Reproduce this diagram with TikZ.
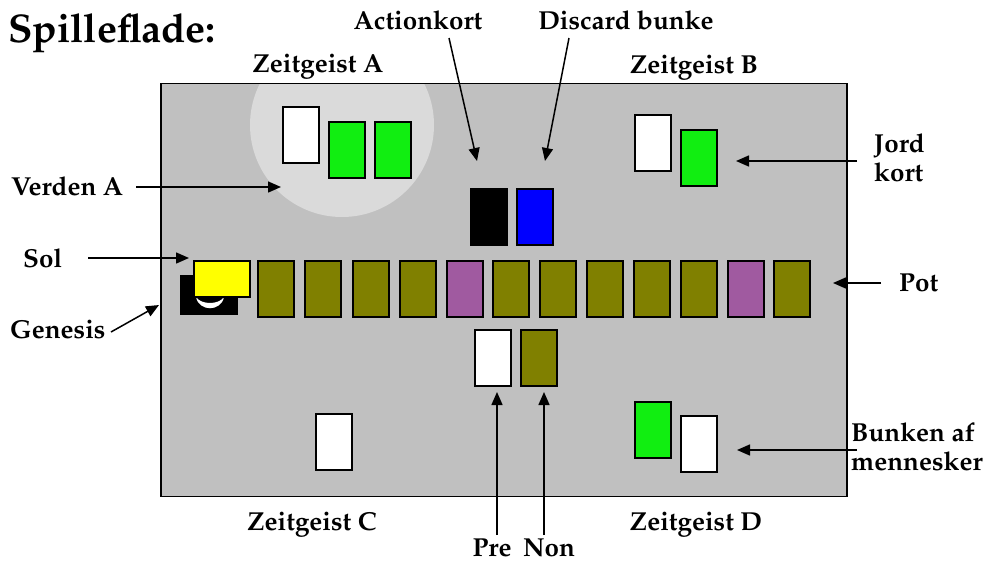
\documentclass[tikz,border=0pt]{standalone}
\usepackage[T1]{fontenc}
\usepackage{mathpazo}
\usetikzlibrary{arrows.meta}
\definecolor{board}{HTML}{C0C0C0}
\definecolor{halo}{HTML}{DADADA}
\definecolor{olive}{HTML}{808000}
\definecolor{purp}{HTML}{A05AA0}
\definecolor{grn}{HTML}{11EE11}
\definecolor{blu}{HTML}{0000FF}
\definecolor{yel}{HTML}{FFFF00}
\tikzset{
  card/.style={draw=black,line width=1.3pt,inner sep=0pt,minimum width=36pt,minimum height=56pt},
  wcard/.style={card,fill=white},
  gcard/.style={card,fill=grn},
  ocard/.style={card,fill=olive},
  pcard/.style={card,fill=purp},
  lbl/.style={font=\bfseries\fontsize{26}{29}\selectfont,inner sep=1pt},
  arr/.style={line width=1.5pt,-{Triangle[length=13pt,width=11pt]}},
}
\begin{document}
\begin{tikzpicture}[x=1pt,y=-1pt]
\useasboundingbox (0,0) rectangle (991,563);
% board
\node[draw=black,line width=1.8pt,fill=board,inner sep=0pt,minimum width=686pt,minimum height=413pt] (brd) at (504,290) {};
\begin{scope}
\clip (161,84) rectangle (847,496);
\fill[halo] (342,125) circle (92);
\end{scope}
% Zeitgeist A cards
\node[wcard] (a1) at (301,135) {};
\node[gcard] (a2) at (347,150) {};
\node[gcard] (a3) at (393,150) {};
% Zeitgeist B
\node[wcard] (b1) at (653,143) {};
\node[gcard] (b2) at (699,158) {};
% action / discard
\node[card,fill=black] (act) at (489,217) {};
\node[card,fill=blu] (dis) at (535,217) {};
% genesis and sun
\node[fill=black,inner sep=0pt,minimum width=58pt,minimum height=40pt] (gen) at (209,295) {};
\fill[white] (196,297) .. controls (199,312) and (221,312) .. (224,297) .. controls (219,305) and (201,305) .. cycle;
\node[draw=black,line width=1.3pt,fill=yel,inner sep=0pt,minimum width=56pt,minimum height=36pt] (sun) at (222,279) {};
% pot row
\node[ocard] (p1) at (276,289) {};
\node[ocard] (p2) at (323,289) {};
\node[ocard] (p3) at (371,289) {};
\node[ocard] (p4) at (418,289) {};
\node[pcard] (p5) at (465,289) {};
\node[ocard] (p6) at (511,289) {};
\node[ocard] (p7) at (558,289) {};
\node[ocard] (p8) at (605,289) {};
\node[ocard] (p9) at (652,289) {};
\node[ocard] (p10) at (699,289) {};
\node[pcard] (p11) at (746,289) {};
\node[ocard] (p12) at (792,289) {};
% pre / non
\node[wcard] (pre) at (493,358) {};
\node[ocard] (non) at (539,358) {};
% Zeitgeist C, D
\node[wcard] (c1) at (334,442) {};
\node[gcard] (d1) at (653,430) {};
\node[wcard] (d2) at (699,444) {};
% labels
\node[font=\bfseries\fontsize{40}{44}\selectfont,anchor=west,inner sep=0pt] (title) at (8,33) {Spilleflade:};
\node[lbl] (lzA) at (318,67) {Zeitgeist A};
\node[lbl] (lact) at (418,20) {Actionkort};
\node[lbl] (ldis) at (626,20) {Discard bunke};
\node[lbl] (lzB) at (694,68) {Zeitgeist B};
\node[lbl,anchor=west,align=left] (ljord) at (873,158) {Jord\\kort};
\node[lbl,anchor=west] (lver) at (10,186) {Verden A};
\node[lbl,anchor=west] (lsol) at (22,258) {Sol};
\node[lbl,anchor=west] (lgen) at (9,330) {Genesis};
\node[lbl,anchor=west] (lpot) at (898,283) {Pot};
\node[lbl,anchor=west,align=left] (lbun) at (850,447) {Bunken af\\mennesker};
\node[lbl] (lzC) at (312,525) {Zeitgeist C};
\node[lbl] (lzD) at (696,525) {Zeitgeist D};
\node[lbl] (lpre) at (492,548) {Pre};
\node[lbl] (lnon) at (549,548) {Non};
% arrow targets and free ends
\coordinate (tact) at (477,161);
\coordinate (tdis) at (545,161);
\coordinate (tver) at (281,187);
\coordinate (tjord) at (736,161);
\coordinate (tsol) at (189,258);
\coordinate (tgen) at (159,305);
\coordinate (tpot) at (833,283);
\coordinate (tbun) at (737,450);
\coordinate (tpre) at (497,392);
\coordinate (tnon) at (544,392);
\coordinate (ssol) at (88,258);
\coordinate (sver) at (136,187);
\coordinate (sjord) at (857,161);
\coordinate (spot) at (881,283);
\coordinate (sbun) at (857,450);
\coordinate (sgen) at (111,332);
% arrows
\draw[arr] (449,38) -- (tact);
\draw[arr] (569,38) -- (tdis);
\draw[arr] (sver) -- (tver);
\draw[arr] (sjord) -- (tjord);
\draw[arr] (ssol) -- (tsol);
\draw[arr] (sgen) -- (tgen);
\draw[arr] (spot) -- (tpot);
\draw[arr] (sbun) -- (tbun);
\draw[arr] (497,535) -- (tpre);
\draw[arr] (544,535) -- (tnon);
\end{tikzpicture}
\end{document}
